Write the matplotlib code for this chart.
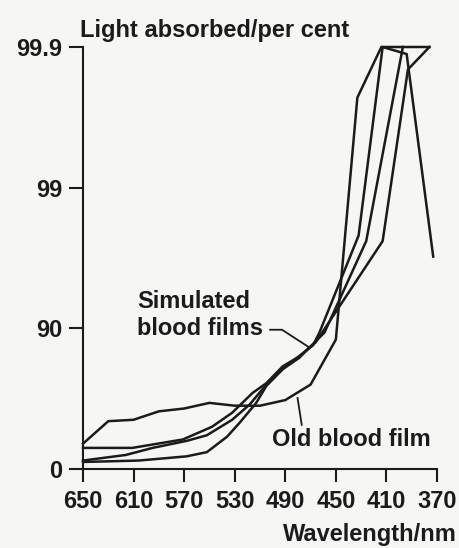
import matplotlib
matplotlib.use('Agg')
import matplotlib.pyplot as plt

plt.rcParams['font.family'] = ['Liberation Sans', 'DejaVu Sans']
plt.rcParams['font.weight'] = 'bold'

# wavelength (nm) and absorbance (= -log10 of transmitted fraction)
# absorbance 0, 1, 2, 3  <->  0, 90, 99, 99.9 per cent absorbed
old_wl = [650, 630, 610, 590, 570, 550, 530, 510, 490, 470, 450, 433, 414, 376]
old_abs = [0.18, 0.34, 0.35, 0.41, 0.43, 0.47, 0.45, 0.45, 0.49, 0.60, 0.92, 2.64, 3.0, 3.0]

sim1_wl = [650, 606, 568, 552, 536, 526, 513, 505, 492, 468, 463, 432, 413, 394, 373]
sim1_abs = [0.05, 0.06, 0.09, 0.12, 0.23, 0.33, 0.47, 0.59, 0.71, 0.88, 0.97, 1.66, 3.0, 2.95, 1.51]

sim2_wl = [650, 616, 595, 568, 552, 532, 518, 505, 492, 479, 468, 459, 426, 397]
sim2_abs = [0.06, 0.10, 0.15, 0.20, 0.24, 0.35, 0.46, 0.60, 0.71, 0.79, 0.89, 0.97, 1.62, 3.0]

sim3_wl = [650, 611, 571, 548, 532, 516, 505, 492, 479, 466, 413, 393, 376]
sim3_abs = [0.15, 0.15, 0.21, 0.30, 0.40, 0.54, 0.61, 0.73, 0.80, 0.90, 1.62, 2.84, 3.0]

x_ticks = [650, 610, 570, 530, 490, 450, 410, 370]
y_ticks = [0, 1, 2, 3]
y_tick_labels = ['0', '90', '99', '99.9']

ink = '#1b1b1b'
paper = '#f6f6f4'
W, H = 460, 548

fig = plt.figure(figsize=(W / 100, H / 100), dpi=100)
fig.patch.set_facecolor(paper)
ax = fig.add_axes([83 / W, 1 - 469 / H, (437 - 83) / W, (469 - 47) / H])
ax.set_facecolor('none')

for wl, a in [(old_wl, old_abs), (sim1_wl, sim1_abs), (sim2_wl, sim2_abs), (sim3_wl, sim3_abs)]:
  ax.plot(wl, a, color=ink, linewidth=1.8, clip_on=False)

ax.set_xlim(650, 370)
ax.set_ylim(0, 3)
ax.set_xticks(x_ticks)
ax.set_yticks(y_ticks)
ax.set_yticklabels(y_tick_labels)

for side in ['top', 'right']:
  ax.spines[side].set_visible(False)
for side in ['left', 'bottom']:
  ax.spines[side].set_linewidth(1.5)
  ax.spines[side].set_color(ink)

ax.tick_params(axis='x', direction='out', length=9, width=1.5, pad=6,
               labelsize=17, colors=ink)
ax.tick_params(axis='y', direction='out', length=10, width=1.5, pad=5,
               labelsize=17, colors=ink)
for lab in ax.get_xticklabels() + ax.get_yticklabels():
  lab.set_fontweight('bold')

# pointer lines for the labels
ax.plot([502, 492.6, 472], [0.99, 0.99, 0.87], color=ink, linewidth=1.3)
ax.plot([480.3, 477], [0.505, 0.314], color=ink, linewidth=1.3)

def ftext(x, y, s, **kw):
  fig.text(x / W, 1 - y / H, s, fontsize=17, fontweight='bold', color=ink,
           va='baseline', **kw)

ftext(80, 37, 'Light absorbed/per cent')
ftext(137, 308, 'Simulated')
ftext(137, 335, 'blood films')
ftext(272, 446, 'Old blood film')
ftext(457, 541, 'Wavelength/nm', ha='right')

fig.savefig('out.png', dpi=100, facecolor=paper)
